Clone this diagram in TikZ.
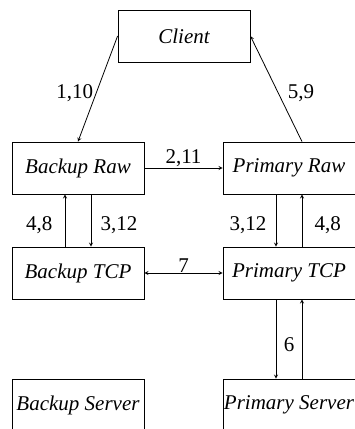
\documentclass[tikz,border=0pt]{standalone}
\usepackage{fontspec}
\setmainfont{Liberation Serif}
\usetikzlibrary{arrows}

\begin{document}
\begin{tikzpicture}[x=1pt,y=-1pt,line width=0.8pt,
    font=\fontsize{21}{24}\selectfont,
    box/.style={draw,minimum width=132pt,minimum height=52pt,inner sep=1pt,font=\fontsize{21}{24}\selectfont\itshape}]
      \clip (0,0) rectangle (355,429);

      \node[box] (client) at (184,36) {Client};
      \node[box] (braw) at (78,168) {Backup Raw};
      \node[box] (praw) at (289,168) {Primary Raw};
      \node[box] (btcp) at (78,273) {Backup TCP};
      \node[box] (ptcp) at (289,273) {Primary TCP};
      \node[box] (bserv) at (78,405) {Backup Server};
      \node[box] (pserv) at (289,405) {Primary Server};

      \draw[-stealth] (client.west) -- (braw.north) node[midway,left=1pt,yshift=-4pt] {1,10};
      \draw[-stealth] ([xshift=13pt]praw.north) -- (client.east) node[midway,right=8pt,yshift=-4pt] {5,9};
      \draw[-stealth] (braw.east) -- (praw.west) node[midway,above,inner sep=1pt] {2,11};

      \draw[-stealth] ([xshift=-13pt]btcp.north) -- ([xshift=-13pt]braw.south) node[midway,left=9pt,yshift=-5pt] {4,8};
      \draw[-stealth] ([xshift=13pt]braw.south) -- ([xshift=13pt]btcp.north) node[midway,right=6pt,yshift=-5pt] {3,12};
      \draw[-stealth] ([xshift=-13pt]praw.south) -- ([xshift=-13pt]ptcp.north) node[midway,left=6pt,yshift=-5pt] {3,12};
      \draw[-stealth] ([xshift=13pt]ptcp.north) -- ([xshift=13pt]praw.south) node[midway,right=9pt,yshift=-5pt] {4,8};

      \draw[stealth-stealth] (btcp.east) -- (ptcp.west) node[midway,above,inner sep=0pt] {7};

      \draw[-stealth] ([xshift=-13pt]ptcp.south) -- ([xshift=-13pt]pserv.north);
      \draw[-stealth] ([xshift=13pt]pserv.north) -- ([xshift=13pt]ptcp.south);
      \node (six) at (289,345) {6};
    \end{tikzpicture}
\end{document}
